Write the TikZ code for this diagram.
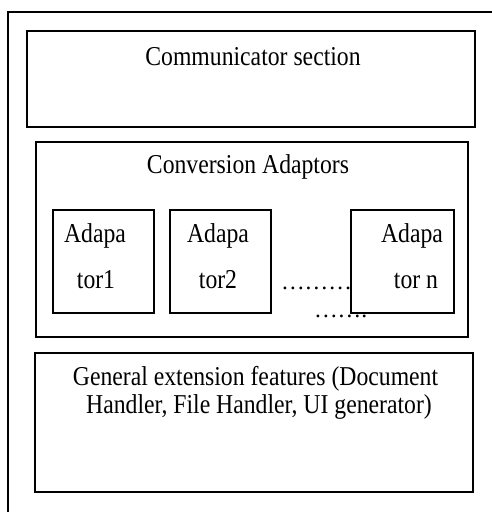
\documentclass[tikz,border=0pt]{standalone}
\usepackage{fontspec}
\setmainfont{Liberation Serif}
% slightly tall lettering used throughout the diagram
\newcommand\talltext[1]{\scalebox{1}[1.15]{#1}}
\begin{document}
\begin{tikzpicture}[x=1pt,y=-1pt,
  frame/.style={draw, line width=1.5pt, inner sep=0pt, outer sep=0pt},
  caption/.style={anchor=base, inner sep=0pt, outer sep=0pt,
    font=\fontsize{23.7}{28}\selectfont},
  dotrow/.style={caption, anchor=base west}]
\useasboundingbox (0,0) rectangle (492,512);
\clip (0,0) rectangle (492,512);

% enclosing frame that runs off the page
\draw[line width=1.6pt] (8,530) -- (8,12) -- (520,12);

% communicator section
\node[frame, minimum width=448, minimum height=96] (comm) at (251,79) {};
\node[caption] (commtext) at (253,65) {\talltext{Communicator section}};

% conversion adaptors
\node[frame, minimum width=432, minimum height=195] (conv) at (252,239.5) {};
\node[caption] (convtext) at (248,173) {\talltext{Conversion Adaptors}};

\node[frame, line width=1.8pt, minimum width=101, minimum height=103] (ad1) at (103.5,261.5) {};
\node[caption] (ad1a) at (95,242) {\talltext{Adapa}};
\node[caption] (ad1b) at (96,288) {\talltext{tor1}};

\node[frame, line width=1.8pt, minimum width=101, minimum height=103] (ad2) at (220.5,261.5) {};
\node[caption] (ad2a) at (218,242) {\talltext{Adapa}};
\node[caption] (ad2b) at (218,288) {\talltext{tor2}};

\node[frame, line width=1.8pt, minimum width=103, minimum height=103] (adn) at (402.5,261.5) {};
\draw[line width=2.6pt] (adn.north east) -- (adn.south east);
\node[caption] (adna) at (412,242) {\talltext{Adapa}};
\node[caption] (adnb) at (416,288) {\talltext{tor n}};

\node[dotrow] (dots1) at (281,289) {………};
\node[dotrow] (dots2) at (314,317) {…….};

% general extension features
\node[frame, minimum width=438, minimum height=139] (gen) at (254,422.5) {};
\node[caption] (gen1) at (255.5,385) {\talltext{General extension features (Document}};
\node[caption] (gen2) at (259,413) {\talltext{Handler, File Handler, UI generator)}};
\end{tikzpicture}
\end{document}
